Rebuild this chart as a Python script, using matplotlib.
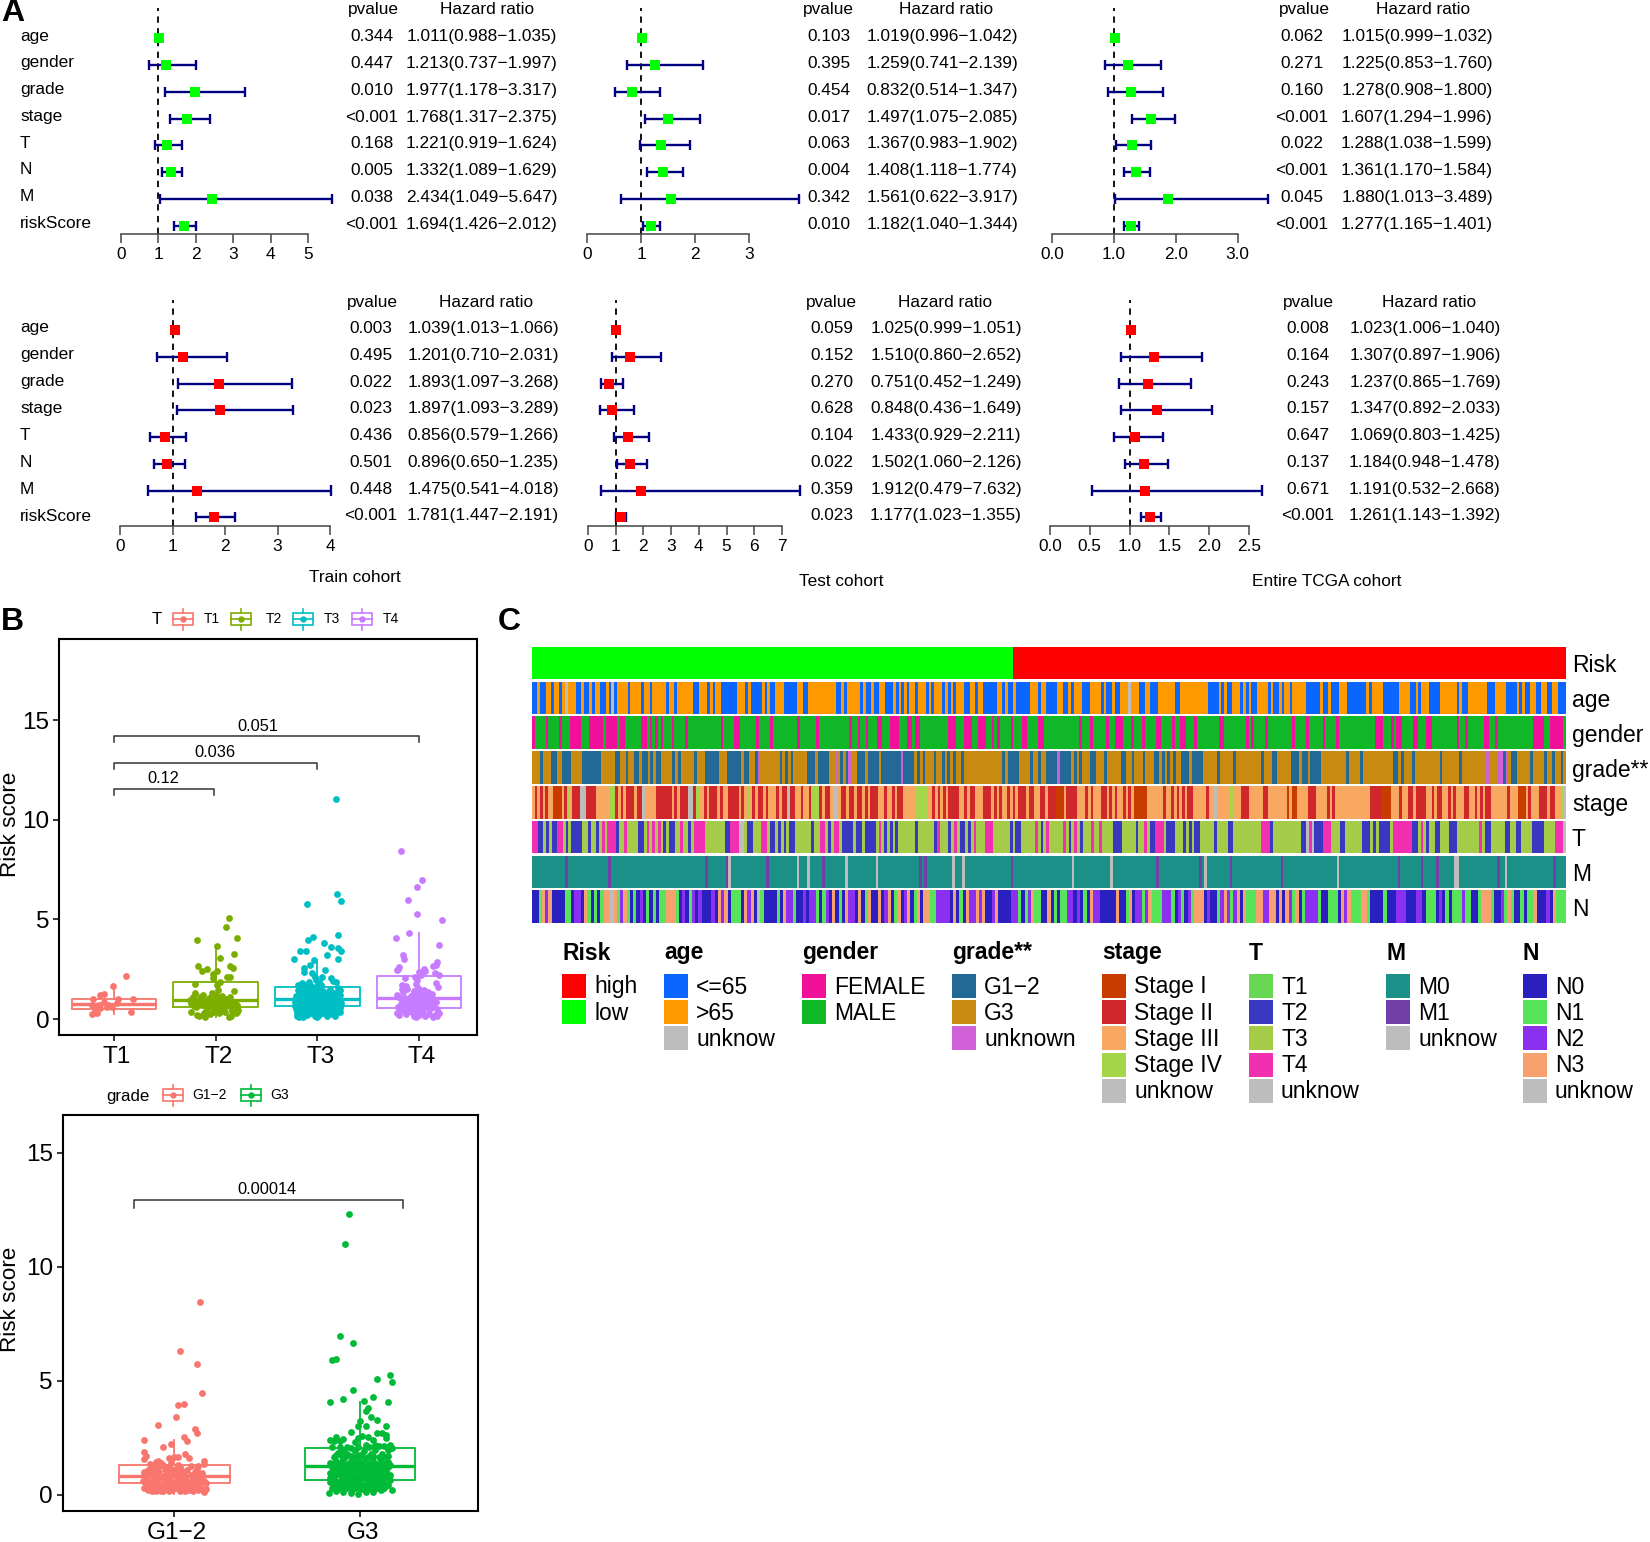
import matplotlib
matplotlib.use('Agg')
import matplotlib.pyplot as plt
import matplotlib.transforms as mtrans
import numpy as np
from matplotlib.colors import ListedColormap
from matplotlib.patches import Rectangle

W, H = 1650, 1542
plt.rcParams['font.family'] = ['Liberation Sans', 'DejaVu Sans']

# ---- forest plot data ----
rows = ['age', 'gender', 'grade', 'stage', 'T', 'N', 'M', 'riskScore']

a1_p = ['0.344', '0.447', '0.010', '<0.001', '0.168', '0.005', '0.038', '<0.001']
a1_hr = [1.011, 1.213, 1.977, 1.768, 1.221, 1.332, 2.434, 1.694]
a1_lo = [0.988, 0.737, 1.178, 1.317, 0.919, 1.089, 1.049, 1.426]
a1_hi = [1.035, 1.997, 3.317, 2.375, 1.624, 1.629, 5.647, 2.012]

a2_p = ['0.103', '0.395', '0.454', '0.017', '0.063', '0.004', '0.342', '0.010']
a2_hr = [1.019, 1.259, 0.832, 1.497, 1.367, 1.408, 1.561, 1.182]
a2_lo = [0.996, 0.741, 0.514, 1.075, 0.983, 1.118, 0.622, 1.040]
a2_hi = [1.042, 2.139, 1.347, 2.085, 1.902, 1.774, 3.917, 1.344]

a3_p = ['0.062', '0.271', '0.160', '<0.001', '0.022', '<0.001', '0.045', '<0.001']
a3_hr = [1.015, 1.225, 1.278, 1.607, 1.288, 1.361, 1.880, 1.277]
a3_lo = [0.999, 0.853, 0.908, 1.294, 1.038, 1.170, 1.013, 1.165]
a3_hi = [1.032, 1.760, 1.800, 1.996, 1.599, 1.584, 3.489, 1.401]

b1_p = ['0.003', '0.495', '0.022', '0.023', '0.436', '0.501', '0.448', '<0.001']
b1_hr = [1.039, 1.201, 1.893, 1.897, 0.856, 0.896, 1.475, 1.781]
b1_lo = [1.013, 0.710, 1.097, 1.093, 0.579, 0.650, 0.541, 1.447]
b1_hi = [1.066, 2.031, 3.268, 3.289, 1.266, 1.235, 4.018, 2.191]

b2_p = ['0.059', '0.152', '0.270', '0.628', '0.104', '0.022', '0.359', '0.023']
b2_hr = [1.025, 1.510, 0.751, 0.848, 1.433, 1.502, 1.912, 1.177]
b2_lo = [0.999, 0.860, 0.452, 0.436, 0.929, 1.060, 0.479, 1.023]
b2_hi = [1.051, 2.652, 1.249, 1.649, 2.211, 2.126, 7.632, 1.355]

b3_p = ['0.008', '0.164', '0.243', '0.157', '0.647', '0.137', '0.671', '<0.001']
b3_hr = [1.023, 1.307, 1.237, 1.347, 1.069, 1.184, 1.191, 1.261]
b3_lo = [1.006, 0.897, 0.865, 0.892, 0.803, 0.948, 0.532, 1.143]
b3_hi = [1.040, 1.906, 1.769, 2.033, 1.425, 1.478, 2.668, 1.392]

# ---- boxplot data: (jitter, risk score) ----
t_names = ['T1', 'T2', 'T3', 'T4']
t_colors = ['#F8766D', '#7CAE00', '#00BFC4', '#C77CFF']
t_q1 = [0.48, 0.58, 0.68, 0.55]
t_med = [0.75, 0.95, 1.03, 1.08]
t_q3 = [1.02, 1.87, 1.59, 2.15]
t_lo = [0.25, 0.10, 0.10, 0.05]
t_hi = [1.66, 3.70, 2.95, 4.30]

t1_pts = [(.12, 2.14), (-.01, 1.66), (-.10, 1.25), (-.14, 1.2), (-.21, .99), (.04, 1.02), (.19, 1.0), (.03, .79),
          (-.06, .7), (-.1, .87), (-.15, .7), (-.22, .23), (-.17, .28), (.17, .33), (-.19, .48), (-.07, .62),
          (-.02, .59), (-.22, .7), (-.14, .54)]
t2_pts = [(.13, 5.08), (.10, 4.6), (-.18, 3.96), (.21, 4.05), (.01, 3.68), (.18, 3.24), (.04, 3.04), (-.17, 2.66),
          (.14, 2.66), (.17, 2.58), (-.08, 2.49), (-.13, 2.41), (.01, 2.42), (-.03, 2.26), (-.03, 2.04), (.11, 2.12),
          (.14, 2.12), (.04, 1.87), (.01, 1.7), (-.2, 1.74), (.18, 1.42),
          (-.24, .35), (-.18, .2), (-.16, .15), (-.1, .12), (-.03, .35), (.13, .1), (.15, .15), (.21, .35), (.2, .3),
          (-.24, .8), (-.25, .95), (-.22, 1.1), (-.2, 1.3), (-.19, .6), (-.17, .9), (-.15, 1.1), (-.13, .7),
          (-.12, 1.2), (-.1, .9), (-.09, .4), (-.08, .55), (-.07, 1.05), (-.05, .75), (-.04, 1.3), (-.03, .95),
          (-.02, .6), (0, 1.2), (0, .8), (.01, .45), (.02, 1.0), (.02, 1.45), (.04, .7), (.05, .9), (.06, 1.15),
          (.07, .5), (.08, .85), (.1, .65), (.1, 1.0), (.12, .8), (.14, 1.1), (.15, .6), (.17, .75), (.19, .55),
          (.21, .7), (.22, .45), (-.11, .3), (-.06, .25), (.03, .3), (.09, .35), (.16, .4), (-.21, .65),
          (-.14, .85), (-.11, .7), (-.09, .78), (-.06, .9), (-.01, .72), (.03, .88), (.06, .72), (.09, .8), (.11, .75),
          (.13, .92), (.16, .82), (.18, .88), (-.18, .78), (-.2, .9), (-.16, .72), (-.04, .58), (.0, .95), (.05, .55)]
t3_pts = [(.18, 11.02), (.19, 6.3), (.23, 5.92), (-.10, 5.75), (.2, 4.21), (-.04, 4.11), (-.09, 3.95), (.07, 3.8),
          (.13, 3.63), (.2, 3.58), (.23, 3.43), (-.17, 3.43), (-.11, 3.41), (.1, 3.19), (.2, 3.01), (-.23, 3.01),
          (-.03, 2.98), (-.07, 2.71), (-.13, 2.54), (.08, 2.46), (-.13, 2.37), (-.05, 2.29), (.05, 2.12), (.13, 2.04),
          (-.01, 1.96), (.18, 1.87), (-.02, 2.1), (.02, 1.85), (.15, 1.9),
          (-.2, .15), (-.17, .25), (-.14, .12), (-.1, .2), (-.06, .28), (-.02, .14), (.02, .2), (.06, .3), (.1, .15),
          (.14, .25), (.18, .28), (.21, .38), (-.21, .5), (-.18, .62), (-.14, .48), (-.11, .55), (-.07, .6), (-.03, .5),
          (.01, .58), (.05, .5), (.09, .62), (.13, .55), (.17, .6), (.22, .55), (-.22, .85), (-.19, .95), (-.15, .82),
          (-.12, .9), (-.08, .88), (-.04, .95), (0, .82), (.04, .9), (.08, .85), (.12, .92), (.16, .85), (.2, .9),
          (.23, .8), (-.21, 1.15), (-.17, 1.25), (-.13, 1.12), (-.09, 1.2), (-.05, 1.15), (-.01, 1.25), (.03, 1.12),
          (.07, 1.2), (.11, 1.14), (.15, 1.22), (.19, 1.15), (.22, 1.2), (-.19, 1.45), (-.16, 1.6), (-.12, 1.5),
          (-.08, 1.42), (-.15, 1.8), (-.11, 1.72), (-.06, 1.65), (-.02, 1.48), (.02, 1.55), (.06, 1.42), (.12, 1.5),
          (.2, 1.55), (.22, 1.45), (-.16, .35), (-.08, .38), (0, .4), (.08, .42), (.16, .42), (-.12, 1.0), (.1, 1.02),
          (-.03, 1.05), (.03, .72), (-.1, .72), (.14, .72), (-.18, .75), (.19, .72),
          (-.2, .3), (-.19, .42), (-.16, .7), (-.13, .3), (-.12, .68), (-.09, .42), (-.06, .42), (-.05, .75), (-.04, .3),
          (-.01, .32), (.01, .42), (.03, .35), (.04, .62), (.07, .7), (.11, .38), (.12, .72), (.15, .4), (.18, .45),
          (.2, .7), (-.2, 1.05), (-.17, 1.05), (-.14, 1.3), (-.1, 1.38), (-.07, 1.02), (-.04, 1.35), (-.01, 1.05),
          (.01, 1.38), (.05, 1.03), (.05, 1.3), (.09, 1.02), (.09, 1.32), (.13, 1.05), (.13, 1.35), (.17, 1.02),
          (.17, 1.32), (.2, 1.08), (-.19, 1.7), (-.14, 1.42), (-.1, 1.6), (-.04, 1.55), (.0, 1.68), (.04, 1.7),
          (-.08, 1.85), (.21, .98), (-.22, .65), (.22, .68), (.22, .35), (-.18, .12), (.0, .12), (.17, .14)]
t4_pts = [(-.18, 8.44), (.03, 6.97), (-.02, 6.64), (-.11, 5.95), (-.02, 5.25), (.23, 4.95), (-.1, 4.3), (-.23, 4.08),
          (.2, 3.71), (-.16, 3.21), (-.15, 3.01), (.18, 2.88), (.17, 2.71), (.14, 2.66), (-.2, 2.63), (-.22, 2.46),
          (.05, 2.49), (0, 2.37), (.2, 2.21), (-.14, 2.07), (.16, 2.29), (-.04, 2.12), (.19, 1.62), (.17, 1.8),
          (-.21, 2.5), (.06, 2.4), (.02, 2.2), (-.02, 1.95), (-.13, 1.65), (-.17, 1.7),
          (-.22, .3), (-.2, .2), (-.16, .45), (-.13, .25), (-.07, .35), (-.03, .1), (.0, .2), (.04, .3), (.1, .25),
          (.14, .08), (.16, .2), (.2, .3), (.18, .15), (-.21, .6), (-.18, .75), (-.15, .85), (-.12, .6), (-.09, .8),
          (-.06, .65), (-.02, .55), (.01, .7), (.05, .6), (.08, .75), (.12, .55), (.15, .65), (.18, .5), (-.22, 1.2),
          (-.19, 1.05), (-.16, 1.35), (-.14, 1.05), (-.11, .95), (-.08, 1.15), (-.04, .95), (0, 1.05), (.03, .95),
          (.07, 1.15), (.11, 1.0), (.15, .95), (.17, .85), (-.17, 1.5), (-.05, 1.4), (-.01, 1.55), (.02, 1.3),
          (.05, 1.45), (.09, 1.35), (.13, 1.25), (-.12, 1.5), (-.03, 1.75), (.0, 1.25), (-.1, .4), (-.05, .15),
          (.06, .15), (-.18, .45), (.1, .5),
          (-.14, .7), (-.1, .62), (-.07, .9), (-.04, .72), (-.01, .85), (.03, .5), (.06, .85), (.1, .7), (.13, .85),
          (-.03, 1.3), (.01, 1.45), (.03, 1.15), (-.06, 1.2), (-.09, 1.0), (.09, .9), (.12, 1.1), (-.02, .35), (.02, .45)]

g_names = ['G1\u22122', 'G3']
g_colors = ['#F8766D', '#00BA38']
g_q1 = [0.53, 0.67]
g_med = [0.82, 1.26]
g_q3 = [1.32, 2.06]
g_lo = [0.05, 0.05]
g_hi = [2.40, 4.08]

g1_pts = [(.14, 8.45), (.03, 6.3), (.12, 5.73), (.15, 4.47), (.02, 3.95), (.05, 3.98), (.01, 3.42), (-.09, 3.04),
          (.11, 2.87), (.12, 2.69), (.05, 2.54), (.07, 2.35), (-.16, 2.4), (-.06, 2.1), (-.02, 2.22), (-.16, 1.86),
          (.06, 1.81), (-.16, 1.59), (.08, 1.62), (.16, 1.49), (.16, 1.35), (0, 1.67), (-.03, 1.63), (.02, 1.66),
          (-.15, 1.7), (-.09, 1.5),
          (-.16, .3), (-.14, .22), (-.12, .35), (-.1, .18), (-.08, .28), (-.06, .15), (-.04, .3), (-.01, .2), (.03, .18),
          (.05, .32), (.08, .2), (.1, .3), (.13, .2), (.16, .12), (.17, .25), (-.17, .6), (-.15, .75), (-.13, .55),
          (-.11, .7), (-.09, .58), (-.07, .8), (-.05, .6), (-.03, .72), (0, .55), (.02, .75), (.04, .58), (.06, .8),
          (.08, .5), (.1, .7), (.12, .55), (.14, .72), (.16, .6), (-.16, 1.0), (-.14, 1.1), (-.12, .95), (-.1, 1.2),
          (-.08, 1.02), (-.06, 1.3), (-.04, 1.0), (-.02, 1.15), (.01, .98), (.03, 1.2), (.05, .95), (.07, 1.1),
          (.09, 1.28), (.11, 1.0), (.13, 1.25), (.15, .95), (-.13, 1.35), (-.1, 1.45), (-.07, 1.4), (-.02, 1.4),
          (.02, 1.3), (-.11, .42), (-.03, .45), (.02, .4), (.07, .42), (.12, .4), (-.14, .45), (.17, .5),
          (-.15, .42), (-.13, .85), (-.12, .15), (-.11, .95), (-.09, .85), (-.08, .45), (-.07, .15), (-.06, .45),
          (-.05, .85), (-.04, 1.2), (-.03, .18), (-.02, .85), (-.01, .42), (0, .88), (.01, .3), (.01, 1.12), (.03, .88),
          (.04, .3), (.05, .72), (.06, .18), (.07, .62), (.09, .88), (.09, .4), (.1, .15), (.11, .55), (.13, .85),
          (.14, .38), (.15, .25), (-.1, .55), (-.1, .32), (-.08, 1.25), (-.12, 1.2), (-.14, .9), (-.16, .85),
          (-.05, 1.15), (-.05, .4), (-.02, .58), (-.02, .32), (.0, 1.05), (.04, 1.05), (.06, .5), (.12, 1.12)]
g3_pts = [(-.06, 12.31), (-.08, 11.01), (-.11, 6.96), (-.04, 6.64), (-.15, 5.91), (-.13, 5.95), (.16, 5.25), (.09, 5.07),
          (.17, 4.94), (-.04, 4.6), (.07, 4.28), (-.09, 4.21), (-.16, 4.08), (.02, 4.12), (.15, 4.05), (.04, 3.82),
          (.03, 3.68), (.06, 3.42), (.09, 3.27), (0, 3.23), (-.01, 3.01), (.03, 3.01), (.14, 3.01), (-.05, 2.75),
          (.09, 2.69), (.12, 2.69), (.14, 2.62), (-.13, 2.54), (-.16, 2.4), (-.09, 2.43), (-.01, 2.47), (.04, 2.54),
          (.14, 2.47), (-.14, 2.38), (-.11, 2.35), (-.03, 2.3), (.07, 2.4), (.01, 2.6), (.16, 2.2), (.17, 2.05),
          (.15, 1.95), (.1, 2.15), (.05, 2.1), (-.15, 2.1), (-.05, 2.05), (-.13, 1.75),
          (-.17, .1), (-.15, .3), (-.13, .15), (-.11, .35), (-.09, .12), (-.07, .3), (-.05, .1), (-.03, .28), (-.01, .05),
          (.01, .25), (.03, .12), (.05, .3), (.07, .14), (.09, .32), (.11, .2), (.13, .3), (.17, .22),
          (-.16, .55), (-.14, .7), (-.12, .58), (-.1, .75), (-.08, .55), (-.06, .72), (-.04, .5), (-.02, .7), (0, .52),
          (.02, .72), (.04, .55), (.06, .75), (.08, .52), (.1, .7), (.12, .55), (.14, .72), (.15, .45),
          (-.16, .95), (-.14, 1.1), (-.12, .98), (-.1, 1.15), (-.08, .95), (-.06, 1.1), (-.04, .95), (-.02, 1.12), (0, .98),
          (.02, 1.1), (.04, .95), (.06, 1.12), (.08, .98), (.1, 1.1), (.12, .95), (.14, 1.05), (.16, .85),
          (-.15, 1.35), (-.13, 1.5), (-.11, 1.38), (-.09, 1.55), (-.07, 1.35), (-.05, 1.5), (-.03, 1.35), (-.01, 1.52),
          (.01, 1.38), (.03, 1.55), (.05, 1.35), (.07, 1.5), (.09, 1.35), (.11, 1.52), (.13, 1.35), (.15, 1.45),
          (-.12, 1.85), (-.09, 1.95), (-.07, 1.8), (-.03, 1.9), (0, 1.75), (.02, 1.92), (.06, 1.8), (.08, 1.95), (.12, 1.8),
          (-.14, .42), (-.12, .3), (-.1, .5), (-.08, .35), (-.06, .48), (-.04, .25), (-.02, .42), (0, .3), (.02, .45),
          (.04, .28), (.06, .48), (.08, .3), (.1, .48), (.12, .35), (.14, .45), (-.15, .82), (-.13, .85), (-.11, .9),
          (-.09, .82), (-.07, .88), (-.05, .75), (-.03, .82), (-.01, .78), (.01, .88), (.03, .82), (.05, .88), (.07, .82),
          (.09, .88), (.11, .82), (.13, .88), (.15, .8), (-.15, 1.2), (-.13, 1.25), (-.11, 1.2), (-.09, 1.3), (-.07, 1.2),
          (-.05, 1.28), (-.03, 1.2), (-.01, 1.3), (.01, 1.22), (.03, 1.28), (.05, 1.2), (.07, 1.3), (.09, 1.2), (.11, 1.28),
          (.13, 1.2), (.15, 1.22), (-.14, 1.65), (-.1, 1.72), (-.08, 1.65), (-.05, 1.72), (-.02, 1.68), (.01, 1.7),
          (.04, 1.68), (.07, 1.72), (.1, 1.68), (.13, 1.65), (-.11, 2.1), (-.07, 2.1), (-.01, 2.1), (.03, 2.2), (.08, 2.2),
          (.13, 2.15), (.15, 1.7), (-.16, 1.4), (.16, 1.3), (.16, .65), (-.16, .75)]

# ---- heatmap rows as run lengths, letter = class, number = samples ----
n_low = 186
n_high = 214

age_runs = ('b2 o1 b2 o2 b1 o2 b1 o1 u1 o3 b2 o1 b2 o1 b1 o2 b2 o1 b1 u1 b1 o4 b1 o4 b1 o2 b1 o5 b1 o2 b1 o6 b2 o3 b1 o1 b1 '
            'o2 b6 o3 b1 o1 b4 o1 b1 o1 b2 o3 b5 o2 b2 o10 b2 o1 b1 o5 b1 o1 b2 o1 b2 o2 b3 o1 b1 o1 b1 o1 b1 o2 b1 o3 '
            'b1 o1 b1 o3 b1 o1 b1 o1 b1 o3 b2 o2 b1 o2 b5 o2 b1 o1 b2 o1 b5 o3 b1 o2 b3 '
            'b1 o2 b2 o1 b1 o3 b3 o4 b1 o1 b2 o1 b2 o3 u1 o3 b2 o2 b3 o6 b2 o10 b4 o1 b1 o1 b2 o3 b1 o1 b1 o1 b2 o4 b1 '
            'o1 b2 o1 b1 o2 b1 o5 b5 o1 b2 o1 b3 o3 b7 o1 b1 o4 b6 o4 b2 o1 b1 o3 b4 o6 b1 o1 b2 o7 b3 o4 b4 o1 b1 o1 '
            'b2 o2 b2 o2 b2 o2 b3')
gender_runs = ('f1 m4 f1 m4 f1 m3 f4 m3 f2 f3 m1 f4 m1 f2 m6 f2 m1 f1 m1 f1 m1 f1 m3 f1 m4 f1 m12 f1 m4 f2 m6 f1 m4 f1 m9 '
               'f1 m6 f1 m11 f1 m2 f1 m2 f1 m3 f2 m3 f3 m3 f2 m1 f2 m10 f3 m3 f3 m2 f3 m2 f1 m1 f1 m4 f1 m3 f2 m2 '
               'm2 f2 m13 f1 m3 f1 m5 f1 m2 f3 m3 f1 m3 f1 m4 f2 m4 f1 m2 f2 m3 f1 m8 f2 m8 f1 m1 f1 m4 f1 m9 f1 m4 f1 '
               'm5 f1 m4 f1 m13 f3 m3 f1 m1 f2 m4 f2 m3 f2 m9 f1 m2 f1 m6 f2 m2 f1 m13 f4 m2 f5 m1')
grade_runs = ('d3 g1 d3 g2 d2 g3 d4 g7 d5 g2 d2 g1 d2 g2 d1 g2 d1 g1 d1 g2 d4 g1 d1 g1 d5 g1 d3 g5 d3 g5 d1 g2 d2 g1 x1 d7 '
              'g1 d1 g1 d1 g1 d5 g3 d1 g4 d2 x1 d1 g1 d1 g1 x1 d2 g3 d1 g4 d1 g7 x1 g4 d1 g1 d1 g1 d3 g1 d2 g1 d1 g1 d1 g1 '
              'd2 g1 d14 g1 d1 g4 d4 g1 d2 g1 d2 g4 x1 g2 '
              'g2 d1 g1 d1 g1 d3 g2 d3 g1 d5 g2 d2 g1 d3 g1 d3 g2 d1 g1 d1 g1 d1 g1 d2 g3 d1 g4 d5 g1 d5 g1 d9 g1 d3 g2 d5 '
              'g3 d1 g2 d1 g4 d9 g1 d4 g1 d11 g2 d1 g1 d3 g1 d9 g1 d6 g1 d9 x1 d3 x2 g1 x1 d1 g2 d5 g1 d4 g1 d2 g1 d2 g1 d1')
stage_runs = ('a1 c1 a1 c1 a1 c1 a2 r3 a1 c1 l1 a1 c3 u2 c4 a5 l2 c1 a1 c1 a1 c3 a1 c2 u1 a4 c6 a1 c1 a1 c3 u2 c1 l1 a2 c1 '
              'a1 c3 a1 c1 a2 c4 a1 c1 a1 l1 a1 c1 a1 c2 a1 c1 a3 c1 a1 c2 u1 c2 a2 c1 a2 c1 l3 c1 a1 c2 a1 u2 a1 c2 a1 c2 '
              'a1 c2 a1 c1 a1 c3 a2 c1 a2 c1 a1 c2 a5 l4 a2 c1 a1 c1 a1 c1 a1 c4 a2 c1 a1 c2 a3 c3 a1 c1 a1 c1 a2 c1 a1 c1 '
              'a1 c3 a1 c2 a2 c2 a1 c3 '
              'r3 a1 c4 a3 c1 a1 c1 a3 c2 a1 c1 a1 c1 a2 c1 a1 c1 a1 r5 a6 c1 a2 c1 a1 c1 a1 c1 a1 c2 a5 c1 a2 u1 a5 l1 a3 '
              'c3 a5 c2 a7 r1 a1 r2 a4 c3 a4 c1 a1 c1 a13 c4 r4 a3 c1 a2 c2 a1 c4 a2 c1 a1 c2 a2 c1 a1 c1 a3 c2 a2 c1 a1 c1 '
              'a1 c2 a6 c1 a3 r3 a1 c1 a3 c3 a1 c2 a2 l1 u1')
t_runs = ('p2 i2 t1 i1 t1 i2 p2 t1 i1 t1 i4 t2 i1 t2 i1 t1 p1 t1 p3 i1 t2 p1 t4 i2 t1 p1 t1 p1 t1 p1 t1 i1 t1 i2 t2 p1 t2 '
          'i1 t1 p4 t7 i2 p3 u2 t1 i2 t3 p2 t1 i2 t1 i1 t1 i1 t1 i2 t6 i1 t2 p2 t1 i1 t1 p2 t1 i4 t1 i2 t1 i4 t1 p1 t1 i1 '
          't1 i1 t1 i1 t6 i1 t6 i1 p1 t3 i1 t1 p1 t1 i2 t1 i1 t1 p1 t3 p3 t6 i1 t1 i2 t5 p1 t1 i1 t1 p1 t5 '
          'p1 t1 i1 t1 p1 t1 i1 t3 p1 t2 p1 t4 i3 t5 i1 t2 p1 t1 i2 p3 t1 i3 t3 i1 t1 i1 t1 i2 t5 i1 t4 i2 t10 p3 i1 t10 '
          'i2 u1 p1 u1 i3 p3 t3 i2 t6 i3 t1 i1 t1 i4 t1 p7 i2 t1 p1 t1 i1 t2 i2 t3 i3 t8 p1 t1 i2 t5 i2 t2 i2 t4 i4 t4 p3 u1')
m_runs = ('m13 v1 m16 v1 m37 v1 m7 v1 u1 m14 v1 m11 u1 m3 u1 m5 v1 m8 u1 m11 u1 m16 v1 m1 v1 m10 u1 m3 u1 m18 v1 m16 '
          'm7 u1 m14 u1 m17 v1 m16 v1 m1 u1 m9 v1 m19 v1 m21 u1 m23 v1 m8 v1 m5 v1 m6 u2 m15 v1 m2 u1 m18 v1 m4')
n_runs = ('n2 e1 s1 p1 s1 n4 e2 n1 p2 n1 s1 e1 n1 e1 n1 e1 s2 u1 s1 e1 p1 s1 e1 n1 e1 n1 p1 n1 e1 n1 e1 n1 e2 s3 e1 n1 p1 '
          'n1 e1 p1 n1 p1 n3 p1 n1 s1 p1 s1 n1 e3 n1 s1 p1 s1 n1 u1 e1 n4 e1 n1 s1 p2 e1 n2 p1 n1 p2 e1 n1 e1 p1 n1 s1 n1 '
          'e1 n1 s1 p2 n1 s1 n1 e1 s1 n2 s1 n1 p1 s1 n1 e1 s1 n1 p1 s1 n1 e1 s1 n1 s2 e2 p4 n1 s1 n1 e1 n1 s1 p2 s1 p1 s1 '
          'n2 p1 s1 n4 p2 e1 n1 e1 p1 s1 e2 n2 s1 n1 e1 n1 e2 p2 n1 p1 n1 e1 n1 s1 p2 n3 '
          'n2 s1 n2 e1 s1 n1 p2 e1 p1 s1 e3 p3 e1 n1 p1 e1 n1 p1 e1 s3 n1 p1 n2 e1 p1 s1 p1 e1 p1 s1 n1 s1 e3 s2 p2 s2 n1 '
          's1 n1 s1 p1 e1 s1 n1 e1 p4 e1 n2 e3 n1 s1 p1 s1 e3 s2 e1 n4 e1 n3 p3 n3 p2 n1 e3 n1 p1 n1 e1 n1 e3 p1 e2 n2 e1 '
          's3 e1 n2 p1 e1 s1 e1 n2 e1 n1 e2 s1 n3 p1 n1 s1 e3')

risk_pal = {'h': '#FF0000', 'k': '#00FF00'}
age_pal = {'b': '#0A66FF', 'o': '#FF9900', 'u': '#BDBDBD'}
gender_pal = {'f': '#F0109A', 'm': '#10B828'}
grade_pal = {'g': '#226A95', 'd': '#C98A10', 'x': '#D060D8'}
stage_pal = {'r': '#C83C00', 'c': '#D0272A', 'a': '#F8A860', 'l': '#A5D548', 'u': '#BDBDBD'}
tstage_pal = {'e': '#68D854', 'i': '#3838C0', 't': '#A4CC48', 'p': '#F030B0', 'u': '#BDBDBD'}
m_pal = {'m': '#1A9088', 'v': '#7040A8', 'u': '#BDBDBD'}
n_pal = {'n': '#2A20C0', 'e': '#58E458', 'p': '#8B30F0', 's': '#F8A070', 'u': '#BDBDBD'}

risk_labels = ['high', 'low']
age_labels = ['<=65', '>65', 'unknow']
gender_labels = ['FEMALE', 'MALE']
grade_labels = ['G1\u22122', 'G3', 'unknown']
stage_labels = ['Stage I', 'Stage II', 'Stage III', 'Stage IV', 'unknow']
tstage_labels = ['T1', 'T2', 'T3', 'T4', 'unknow']
m_labels = ['M0', 'M1', 'unknow']
n_labels = ['N0', 'N1', 'N2', 'N3', 'unknow']

fig = plt.figure(figsize=(W / 100, H / 100), dpi=100)


def px_axes(left, top, right, bottom):
    return fig.add_axes([left / W, 1 - bottom / H, (right - left) / W, (bottom - top) / H])


# overlay in pixel units for all loose text
over = px_axes(0, 0, W, H)
over.set_xlim(0, W)
over.set_ylim(H, 0)
over.axis('off')
over.set_zorder(10)


def forest(left, right, ticks, ticklabs, y0, y7, top, axis_y, colour, p, hr, lo, hi, px_p, px_hr, hdr_p, hdr_hr, hdr_y):
    ax = px_axes(left, top, right, axis_y)
    pitch = (y7 - y0) / 7
    ax.set_xlim(ticks[0], ticks[-1])
    ax.set_ylim(7 + (axis_y - y7) / pitch, -(y0 - top) / pitch)
    ax.patch.set_alpha(0)
    for s in ['left', 'right', 'top']:
        ax.spines[s].set_visible(False)
    ax.spines['bottom'].set_color('#444444')
    ax.spines['bottom'].set_linewidth(1.1)
    ax.set_yticks([])
    ax.set_xticks(ticks)
    ax.set_xticklabels(ticklabs, fontsize=12.4)
    ax.tick_params(axis='x', length=6.7, width=1.1, color='#444444', pad=3)
    ax.axvline(1, color='black', lw=1.3, ls=(0, (3.5, 3)), clip_on=False)
    ys = np.arange(8)
    ax.hlines(ys, lo, hi, color='#000080', lw=1.7, clip_on=False, zorder=3)
    ax.vlines(lo, ys - 0.19, ys + 0.19, color='#000080', lw=1.7, clip_on=False, zorder=3)
    ax.vlines(hi, ys - 0.19, ys + 0.19, color='#000080', lw=1.7, clip_on=False, zorder=3)
    ax.plot(hr, ys, 's', color=colour, ms=6.6, mew=0, clip_on=False, zorder=4)
    over.text(hdr_p, hdr_y, 'pvalue', fontsize=12.4, ha='center', va='center')
    over.text(hdr_hr, hdr_y, 'Hazard ratio', fontsize=12.4, ha='center', va='center')
    for i in ys:
        y = y0 + i * pitch - 1.5
        over.text(px_p, y, p[i], fontsize=12.4, ha='center', va='center')
        txt = f'{hr[i]:.3f}({lo[i]:.3f}\u2212{hi[i]:.3f})'
        over.text(px_hr, y, txt, fontsize=12.4, ha='center', va='center')


top_y = (38.3, 225.7, 8.3, 234, 9.3)
bot_y = (330, 517.3, 300, 525.7, 302.5)
forest(121, 308, [0, 1, 2, 3, 4, 5], ['0', '1', '2', '3', '4', '5'], *top_y[:4], '#00FF00', a1_p, a1_hr, a1_lo, a1_hi, 372, 481.6, 373.6, 487, top_y[4])
forest(587, 749, [0, 1, 2, 3], ['0', '1', '2', '3'], *top_y[:4], '#00FF00', a2_p, a2_hr, a2_lo, a2_hi, 829, 942, 828, 946, top_y[4])
forest(1052, 1237.5, [0, 1, 2, 3], ['0.0', '1.0', '2.0', '3.0'], *top_y[:4], '#00FF00', a3_p, a3_hr, a3_lo, a3_hi, 1302, 1417, 1304, 1423, top_y[4])
forest(120, 330, [0, 1, 2, 3, 4], ['0', '1', '2', '3', '4'], *bot_y[:4], '#FF0000', b1_p, b1_hr, b1_lo, b1_hi, 371, 483, 372.5, 486, bot_y[4])
forest(588, 782, [0, 1, 2, 3, 4, 5, 6, 7], list('01234567'), *bot_y[:4], '#FF0000', b2_p, b2_hr, b2_lo, b2_hi, 832, 946, 831, 945, bot_y[4])
forest(1050, 1249, [0, 0.5, 1, 1.5, 2, 2.5], ['0.0', '0.5', '1.0', '1.5', '2.0', '2.5'], *bot_y[:4], '#FF0000', b3_p, b3_hr, b3_lo, b3_hi, 1308, 1425, 1308, 1429, bot_y[4])

for i, name in enumerate(rows):
    over.text(20, 36 + i * 26.77, name, fontsize=12.4, va='center')
    over.text(20, 327.7 + i * 27, name, fontsize=12.4, va='center')
over.text(354.6, 578, 'Train cohort', fontsize=12.4, ha='center', va='center')
over.text(841, 582, 'Test cohort', fontsize=12.4, ha='center', va='center')
over.text(1327, 582, 'Entire TCGA cohort', fontsize=12.4, ha='center', va='center')

over.text(1, 13, 'A', fontsize=23, fontweight='bold', va='center')
over.text(1, 622, 'B', fontsize=23, fontweight='bold', va='center')
over.text(498, 622, 'C', fontsize=23, fontweight='bold', va='center')


def boxpanel(box, xlim, ylim, pts_list, colors, names, q1, med, q3, lo, hi, width, yticks, label_y):
    ax = px_axes(*box)
    ax.set_xlim(*xlim)
    ax.set_ylim(*ylim)
    for i, pts in enumerate(pts_list):
        c = colors[i]
        stats = [{'med': med[i], 'q1': q1[i], 'q3': q3[i], 'whislo': lo[i], 'whishi': hi[i], 'fliers': []}]
        ax.bxp(stats, positions=[i + 1], widths=width, showcaps=False, showfliers=False, manage_ticks=False,
               boxprops=dict(color=c, lw=1.3), whiskerprops=dict(color=c, lw=1.3),
               medianprops=dict(color=c, lw=2.4))
        dx = np.array([q[0] for q in pts])
        val = np.array([q[1] for q in pts])
        ax.scatter(i + 1 + dx, val, s=24, color=c, linewidths=0, zorder=3)
    ax.set_xticks(range(1, len(names) + 1))
    ax.set_xticklabels(names, fontsize=17.5)
    ax.set_yticks(yticks)
    ax.tick_params(axis='y', labelsize=17.5, length=4, width=1.1, pad=3)
    ax.tick_params(axis='x', length=4, width=1.1, pad=4)
    shift = mtrans.ScaledTranslation(3 / 100, 0, fig.dpi_scale_trans)
    for lab in ax.get_xticklabels():
        lab.set_transform(lab.get_transform() + shift)
    for s in ax.spines.values():
        s.set_linewidth(1.5)
    over.text(11, label_y, 'Risk score', fontsize=16.2, rotation=90, ha='center', va='center')
    return ax


def bracket(ax, x1, x2, y, tip, label, xlab):
    ax.plot([x1, x1, x2, x2], [y - tip, y, y, y - tip], color='#333333', lw=1.1)
    ax.text(xlab, y + 0.12, label, fontsize=11.8, ha='center', va='bottom')


ax_t = boxpanel((59, 639, 477, 1035), (0.46, 4.57), (-0.8, 19.07), [t1_pts, t2_pts, t3_pts, t4_pts], t_colors, t_names,
                t_q1, t_med, t_q3, t_lo, t_hi, 0.83, [0, 5, 10, 15], 824)
bracket(ax_t, 1, 1.98, 11.55, 0.32, '0.12', 1.49)
bracket(ax_t, 1, 3, 12.86, 0.3, '0.036', 1.995)
bracket(ax_t, 1, 4, 14.2, 0.32, '0.051', 2.41)

ax_g = boxpanel((62.7, 1114.7, 478, 1511), (0.40, 2.634), (-0.71, 16.67), [g1_pts, g3_pts], g_colors, g_names,
                g_q1, g_med, g_q3, g_lo, g_hi, 0.595, [0, 5, 10, 15], 1299)
bracket(ax_g, 0.785, 2.23, 12.92, 0.36, '0.00014', 1.5)


def box_key(xl, xr, yc, c):
    over.add_patch(Rectangle((xl, yc - 6.2), xr - xl, 12.4, fc='white', ec=c, lw=1.2))
    over.plot([xl, xr], [yc, yc], color=c, lw=1.2)
    xm = (xl + xr) / 2
    over.plot([xm, xm], [yc - 10.5, yc - 6.2], color=c, lw=1.2)
    over.plot([xm, xm], [yc + 6.2, yc + 10.5], color=c, lw=1.2)
    over.plot([xm], [yc], 'o', color=c, ms=4.6, mew=0)


over.text(157, 619, 'T', fontsize=12.2, ha='center', va='center')
for c, name, xl, xt in zip(t_colors, t_names, [173, 231, 293, 352], [204, 266, 324, 383]):
    box_key(xl, xl + 20, 619, c)
    over.text(xt, 619, name, fontsize=10, va='center')
over.text(106, 1096, 'grade', fontsize=12.2, va='center')
for c, name, xl, xt in zip(g_colors, g_names, [163, 241], [192, 270]):
    box_key(xl, xl + 20, 1095, c)
    over.text(xt, 1095, name, fontsize=10, va='center')


# ---- heatmap ----
def expand(runs):
    return [t[0] for t in runs.split() for _ in range(int(t[1:]))]


risk_cells = ['k'] * n_low + ['h'] * n_high
strips = [(risk_cells, risk_pal, 'Risk'),
          (expand(age_runs), age_pal, 'age'),
          (expand(gender_runs), gender_pal, 'gender'),
          (expand(grade_runs), grade_pal, 'grade**'),
          (expand(stage_runs), stage_pal, 'stage'),
          (expand(t_runs), tstage_pal, 'T'),
          (expand(m_runs), m_pal, 'M'),
          (expand(n_runs), n_pal, 'N')]

hm = px_axes(532, 646.7, 1566, 923)
hm.set_xlim(0, 1)
hm.set_ylim(7.935, 0)
hm.axis('off')
for i, (cells, pal, name) in enumerate(strips):
    keys = list(pal)
    codes = np.array([keys.index(c) for c in cells])[None, :]
    xedges = np.linspace(0, 1, codes.shape[1] + 1)
    hm.pcolormesh(xedges, [i, i + 0.935], codes, cmap=ListedColormap(list(pal.values())), vmin=-0.5,
                  vmax=len(keys) - 0.5, rasterized=True)
    over.text(1572, 666 + i * 34.75, name, fontsize=16.5, va='center')

# ---- heatmap legend ----
legend_groups = [('Risk', 562, risk_pal, risk_labels), ('age', 664, age_pal, age_labels),
                 ('gender', 802, gender_pal, gender_labels), ('grade**', 952, grade_pal, grade_labels),
                 ('stage', 1102, stage_pal, stage_labels), ('T', 1249, tstage_pal, tstage_labels),
                 ('M', 1386, m_pal, m_labels), ('N', 1523, n_pal, n_labels)]
for title, lx, pal, labs in legend_groups:
    over.text(lx, 953, title, fontsize=16.5, fontweight='bold', va='center')
    for j, (col, lab) in enumerate(zip(pal.values(), labs)):
        over.add_patch(Rectangle((lx, 974 + j * 26.2), 24, 24, fc=col, ec='none'))
        over.text(lx + 32, 987 + j * 26.2, lab, fontsize=16.5, va='center')

fig.savefig('out.png', dpi=100)
